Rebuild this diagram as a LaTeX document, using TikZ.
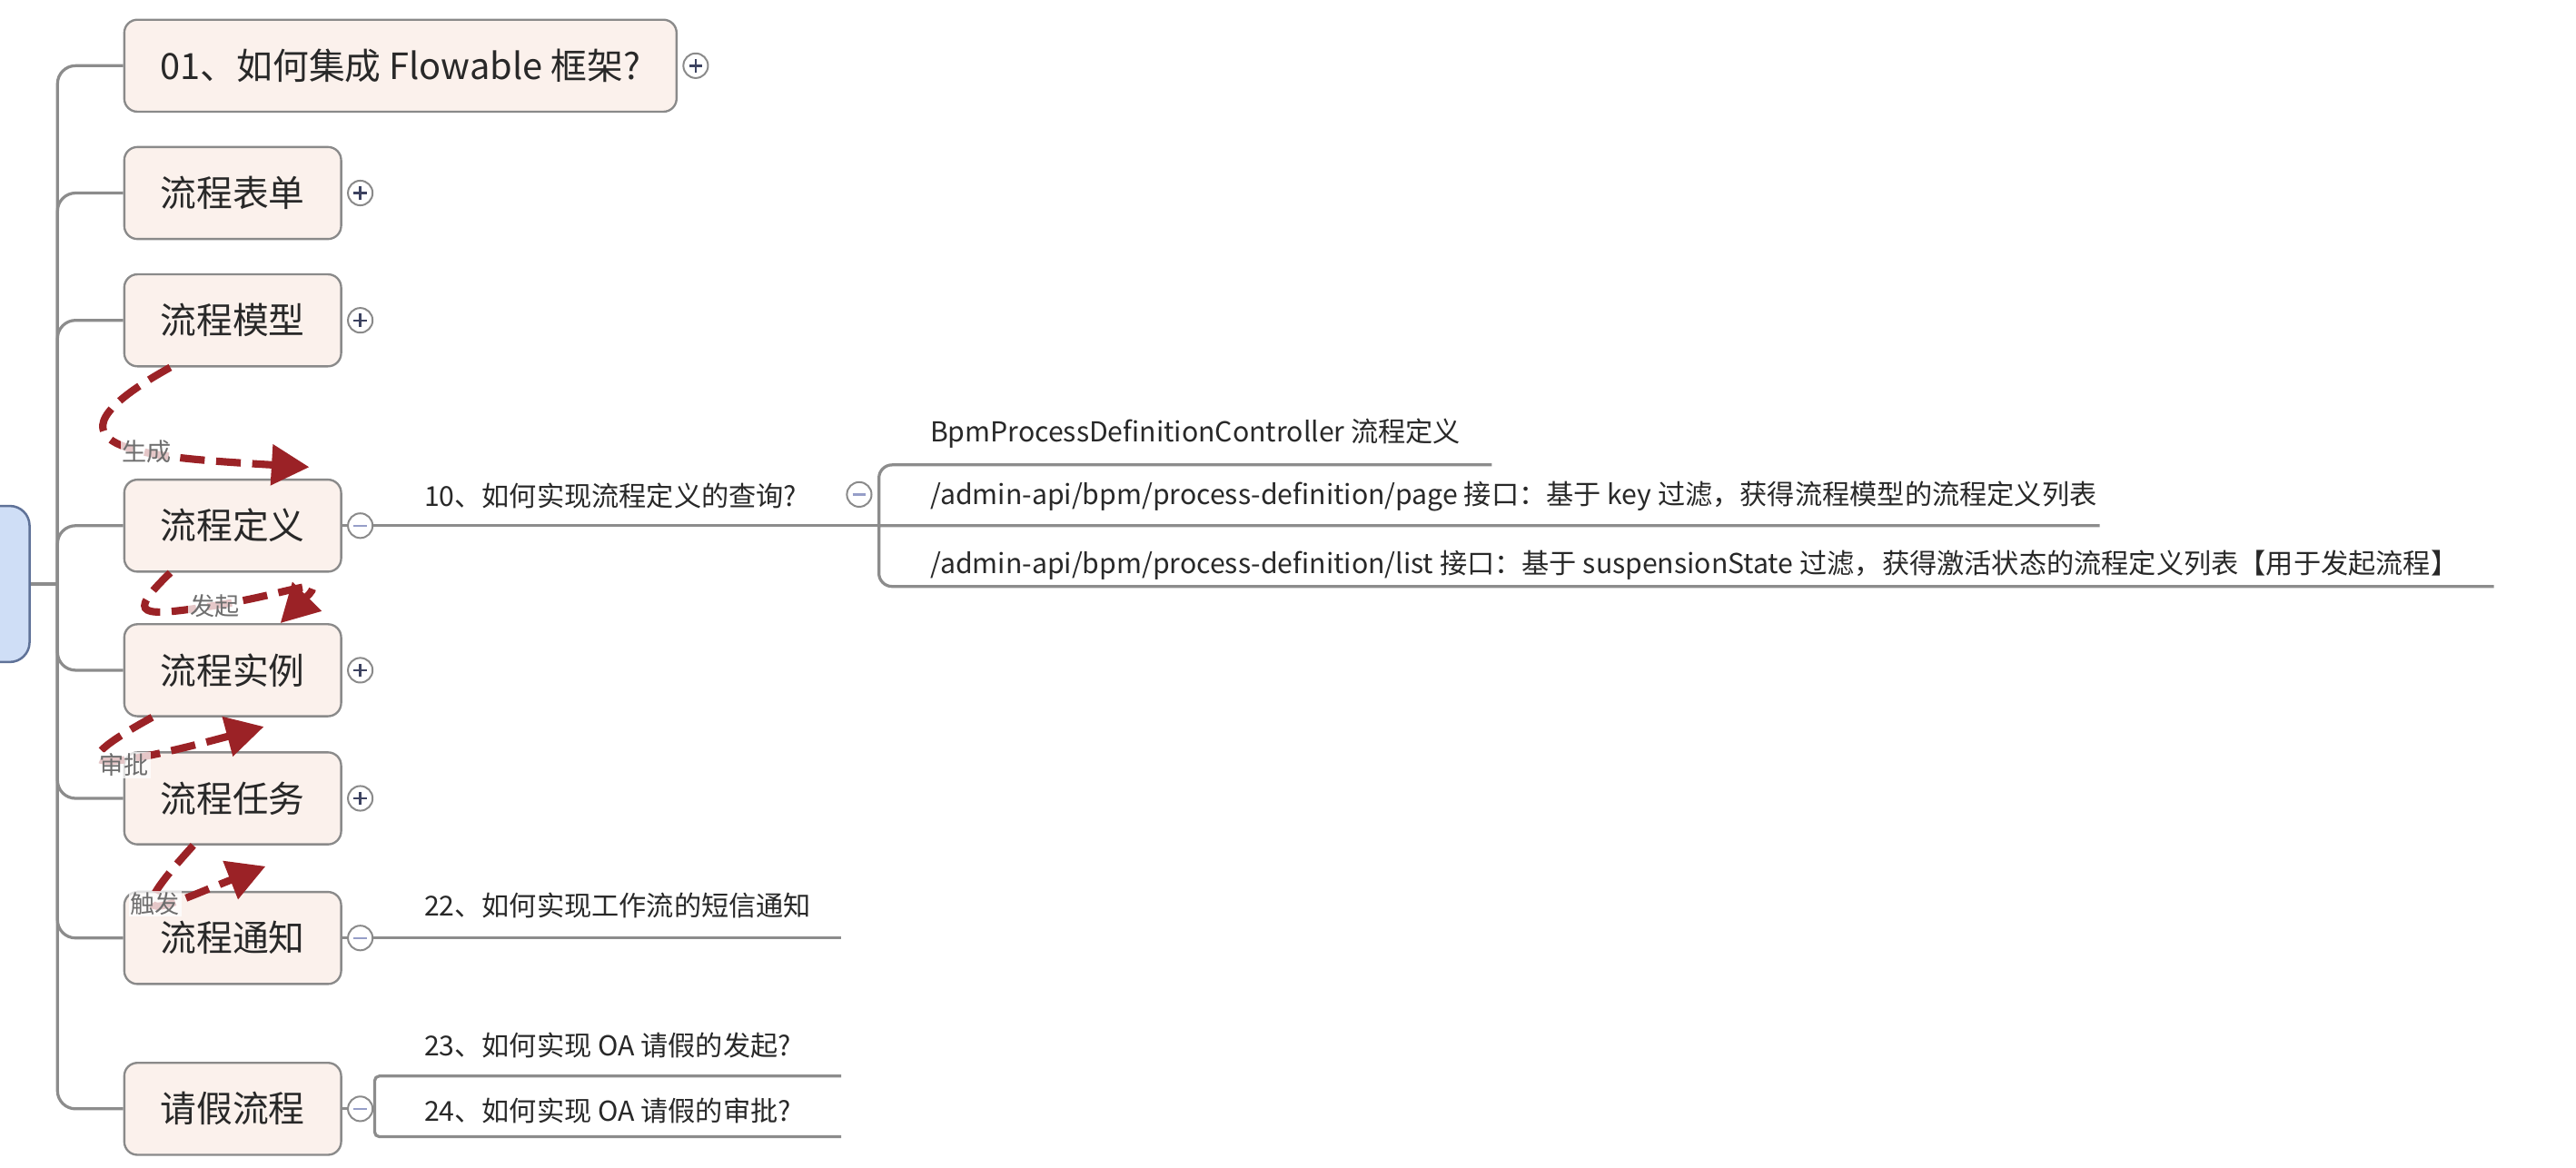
\documentclass[tikz,border=0pt]{standalone}
\usepackage{fontspec}
\setmainfont{Noto Sans CJK SC}
\usetikzlibrary{arrows.meta}
\definecolor{boxfill}{RGB}{251,241,236}
\definecolor{boxline}{RGB}{138,138,138}
\definecolor{rootfill}{RGB}{207,222,246}
\definecolor{rootline}{RGB}{95,114,152}
\definecolor{linegray}{RGB}{140,140,140}
\definecolor{relred}{RGB}{155,34,38}
\definecolor{relgray}{RGB}{110,110,110}
\definecolor{ink}{RGB}{40,40,40}
\definecolor{plusc}{RGB}{60,66,96}
\definecolor{minusc}{RGB}{150,158,200}
\tikzset{
  topic/.style={draw=boxline,fill=boxfill,rounded corners=8pt,line width=1.3pt,
    minimum width=132pt,minimum height=56pt,inner xsep=22pt,anchor=west,
    text=ink,font=\fontsize{22}{26}\selectfont},
  rootbox/.style={draw=rootline,fill=rootfill,rounded corners=12pt,line width=1.4pt,
    minimum width=58pt,minimum height=95pt},
  leaf/.style={anchor=base west,inner sep=0pt,text=ink,font=\fontsize{16.7}{19}\selectfont},
  item/.style={anchor=base west,inner sep=0pt,text=ink,font=\fontsize{16.7}{19}\selectfont},
  link/.style={draw=linegray,line width=1.8pt},
  fold/.style={circle,draw=boxline,fill=white,line width=1.1pt,minimum size=15pt,inner sep=0pt},
  plus/.style={draw=plusc,line width=1.3pt},
  minus/.style={draw=minusc,line width=1.3pt},
  flow/.style={draw=relred,line width=4.5pt,dash pattern=on 15pt off 7pt,->},
  rel/.style={text=relgray,font=\fontsize{15}{17}\selectfont,fill=white,
    fill opacity=.75,text opacity=1,inner sep=1pt}
}
\begin{document}
\begin{tikzpicture}[x=1pt,y=-1pt,>={Triangle[length=23pt,width=24pt]}]
\useasboundingbox (0,0) rectangle (1568,711);

% root and main topics
\node[rootbox] (root) at (-11,355.5) {};
\coordinate (spine) at (35,355.5);
\node[topic] (t01) at (75,40) {01、如何集成 Flowable 框架?};
\node[topic] (form) at (75,117.5) {流程表单};
\node[topic] (model) at (75,195) {流程模型};
\node[topic] (def) at (75,320) {流程定义};
\node[topic] (inst) at (75,408) {流程实例};
\node[topic] (task) at (75,486) {流程任务};
\node[topic] (note) at (75,571) {流程通知};
\node[topic] (leave) at (75,675) {请假流程};

\draw[link] (root.east) -- (spine);
\foreach \t in {t01,form,model,def,inst,task,note,leave}
  \draw[link,rounded corners=11pt] (spine) |- (\t.west);

\foreach \t in {t01,form,model,def,inst,task,note,leave}
  \node[fold] (f\t) at ([xshift=11pt]\t.east) {};

% 流程定义 branch
\coordinate (br10) at (535,320);
\coordinate (u-bpm) at (908,283);
\coordinate (u-page) at (1278,320);
\coordinate (u-list) at (1518,357);
\draw[link] (def.east) -- (fdef.west) (fdef.east) -- (br10);
\draw[link,rounded corners=8pt] (br10) |- (u-bpm) (br10) -- (u-page) (br10) |- (u-list);
\node[leaf] (q10) at (258,308) {10、如何实现流程定义的查询?};
\node[fold] (f10) at (523,301) {};
\node[item] (c-bpm) at (566,269) {BpmProcessDefinitionController 流程定义};
\node[item] (c-page) at (566,307) {/admin-api/bpm/process-definition/page 接口：基于 key 过滤，获得流程模型的流程定义列表};
\node[item] (c-list) at (566,349) {/admin-api/bpm/process-definition/list 接口：基于 suspensionState 过滤，获得激活状态的流程定义列表【用于发起流程】};

% 流程通知 branch
\coordinate (u22) at (512,571);
\draw[link] (note.east) -- (fnote.west) (fnote.east) -- (u22);
\node[leaf] (q22) at (258,557.6) {22、如何实现工作流的短信通知};

% 请假流程 branch
\coordinate (brl) at (228,675);
\coordinate (u23) at (512,655);
\coordinate (u24) at (512,692);
\draw[link] (leave.east) -- (fleave.west) (fleave.east) -- (brl);
\draw[link,rounded corners=3pt] (brl) |- (u23) (brl) |- (u24);
\node[leaf] (q23) at (258,642.6) {23、如何实现 OA 请假的发起?};
\node[leaf] (q24) at (258,682.6) {24、如何实现 OA 请假的审批?};

% fold signs
\foreach \f in {ft01,fform,fmodel,finst,ftask}
  \draw[plus] ([xshift=-4pt]\f.center) -- ([xshift=4pt]\f.center)
    ([yshift=-4pt]\f.center) -- ([yshift=4pt]\f.center);
\foreach \f in {fdef,fnote,fleave,f10}
  \draw[minus] ([xshift=-4pt]\f.center) -- ([xshift=4pt]\f.center);

% relations
\draw[flow] ([xshift=-38pt]model.south) .. controls +(-90,50) and +(-100,-6) .. ([xshift=-20pt,yshift=7pt]def.north east) node[rel,pos=0.6] {生成};
\draw[flow] ([xshift=-38pt]def.south) .. controls +(-28,27) and +(-45,7) .. ++(27,20) node[rel] {发起} .. controls +(45,-7) and +(30,-30) .. ([xshift=29pt]inst.north);
\draw[flow] ([xshift=-49pt]inst.south) .. controls +(-62,34) and +(-100,27) .. ([xshift=19pt,yshift=15pt]task.north) node[rel,pos=0.6,yshift=-4pt] {审批};
\draw[flow] ([xshift=-24pt]task.south) .. controls +(-50,55) and +(-61,24) .. ([xshift=20pt,yshift=15pt]note.north) node[rel,pos=0.42] {触发};
\end{tikzpicture}
\end{document}
